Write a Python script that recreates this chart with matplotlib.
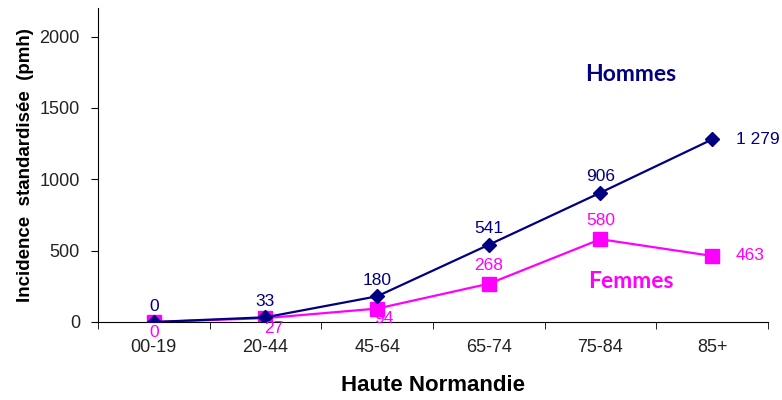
import matplotlib
matplotlib.use("Agg")
import matplotlib.pyplot as plt
import numpy as np

plt.rcParams['font.family'] = ['Liberation Sans', 'DejaVu Sans']

age_groups = ["00-19", "20-44", "45-64", "65-74", "75-84", "85+"]
hommes = [0, 33, 180, 541, 906, 1279]
femmes = [0, 27, 94, 268, 580, 463]
hommes_labels = ["0", "33", "180", "541", "906", "1 279"]
femmes_labels = ["0", "27", "94", "268", "580", "463"]
y_ticks = [0, 500, 1000, 1500, 2000]

navy = "#000080"
magenta = "#FF00FF"

fig = plt.figure(figsize=(7.82, 4.0), dpi=100)
ax = fig.add_axes([0.1253, 0.195, 0.8567, 0.785])

x = np.arange(len(age_groups))
ax.plot(x, hommes, color=navy, lw=1.6, marker="D", ms=7, zorder=3)
ax.plot(x, femmes, color=magenta, lw=1.6, marker="s", ms=9.5, zorder=2)

ax.set_xlim(-0.5, len(age_groups) - 0.5)
ax.set_ylim(0, 2200)
ax.set_yticks(y_ticks)
ax.set_xticks(x)
ax.set_xticklabels(age_groups)
ax.set_xticks(np.arange(-0.5, len(age_groups)), minor=True)
ax.tick_params(axis="x", which="major", length=0, pad=12, labelsize=13, colors="#222222")
ax.tick_params(axis="x", which="minor", length=5, direction="out", color="black")
ax.tick_params(axis="y", length=5, direction="out", pad=8, labelsize=13, labelcolor="#222222")

for side in ("top", "right"):
    ax.spines[side].set_visible(False)
ax.spines["left"].set_color("black")
ax.spines["bottom"].set_color("black")

# value labels, Hommes
for i, (v, t) in enumerate(zip(hommes, hommes_labels)):
    if i == len(hommes) - 1:
        ax.annotate(t, (i, v), xytext=(17, 0), textcoords="offset points",
                    ha="left", va="center", color=navy, fontsize=12.5)
    else:
        ax.annotate(t, (i, v), xytext=(0, 6), textcoords="offset points",
                    ha="center", va="bottom", color=navy, fontsize=12.5)

# value labels, Femmes
femmes_offsets = [(0, -2, "center", "top"), (6, -2, "center", "top"),
                  (5, -2, "center", "top"), (0, 8, "center", "bottom"),
                  (0, 8, "center", "bottom"), (17, 0, "left", "center")]
for i, (v, t) in enumerate(zip(femmes, femmes_labels)):
    dx, dy, ha, va = femmes_offsets[i]
    ax.annotate(t, (i, v), xytext=(dx, dy), textcoords="offset points",
                ha=ha, va=va, color=magenta, fontsize=12.5)

ax.text(4.27, 1733, "Hommes", color=navy, fontsize=16.5, fontweight="bold",
        family=["Lato", "DejaVu Sans"], ha="center", va="center")
ax.text(4.27, 281, "Femmes", color=magenta, fontsize=16.5, fontweight="bold",
        family=["Lato", "DejaVu Sans"], ha="center", va="center")

ax.set_xlabel("Haute Normandie", fontsize=16, fontweight="bold", labelpad=14)
ax.set_ylabel("Incidence  standardisée  (pmh)", fontsize=13.5, fontweight="bold", labelpad=4)

fig.savefig("out.png", dpi=100)
